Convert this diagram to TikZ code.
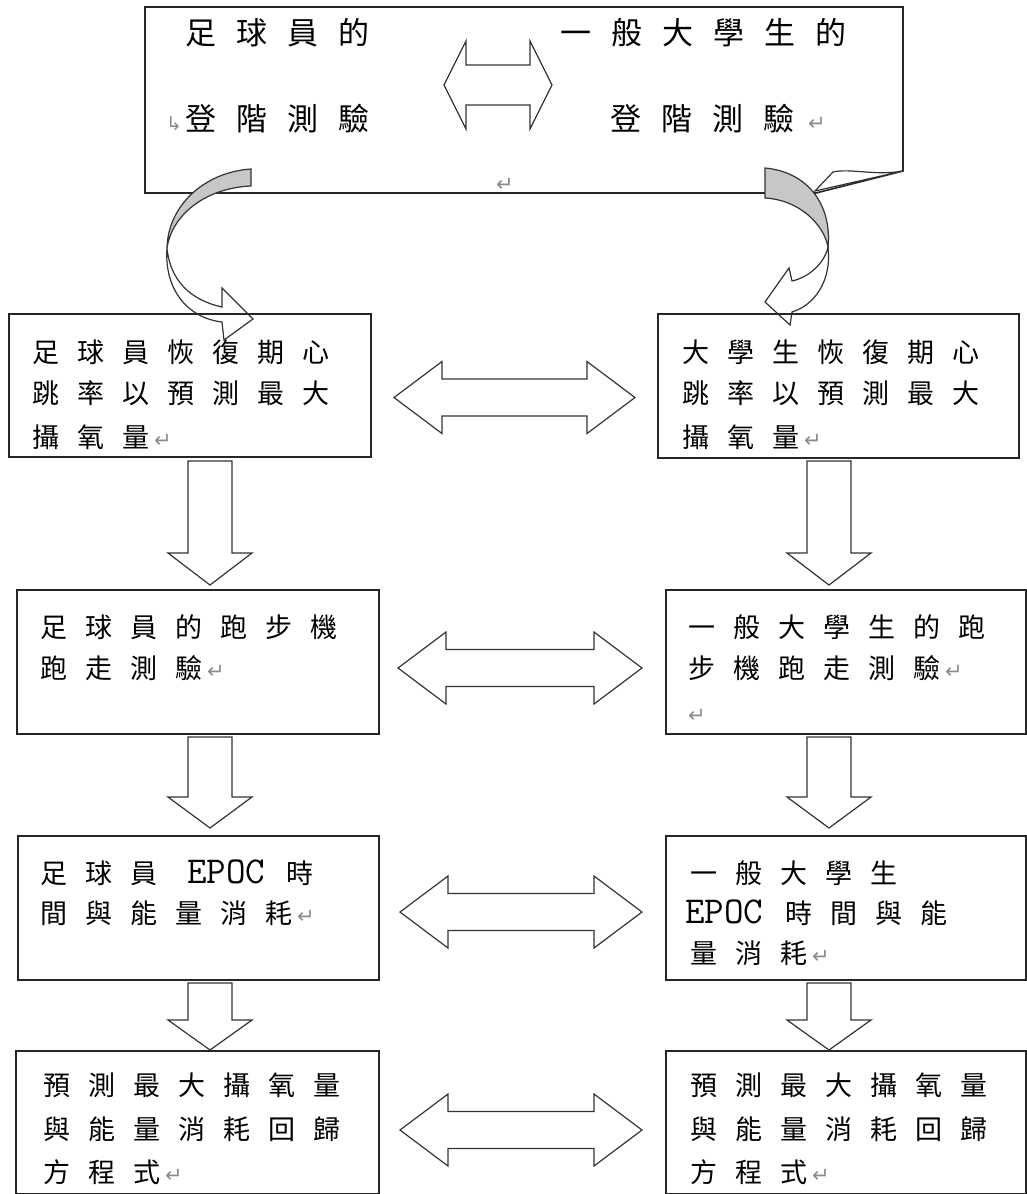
\documentclass[tikz,border=0pt]{standalone}
\usepackage{fontspec}
\newfontfamily\cjk{Noto Sans CJK TC}
\newfontfamily\dejavu{DejaVu Sans}
\newcommand\cgap{\hspace{18pt}}
\newcommand\tgap{\hspace{20pt}}
\newcommand\pmk{\textcolor{black!45}{\dejavu\fontsize{21}{21}\selectfont ↵}}
\newcommand\pmr{\textcolor{black!45}{\dejavu\fontsize{19}{19}\selectfont ↳}}
\newcommand\epoc{{\fontsize{38}{38}\selectfont\ttfamily EPOC}}
% horizontal double block arrow: x1 x2 y headlen halfhead halfshaft
\newcommand\hdbl[6]{\draw[blk] (#1,#3) -- (#1+#4,#3-#5) -- (#1+#4,#3-#6) -- (#2-#4,#3-#6) -- (#2-#4,#3-#5) -- (#2,#3) -- (#2-#4,#3+#5) -- (#2-#4,#3+#6) -- (#1+#4,#3+#6) -- (#1+#4,#3+#5) -- cycle;}
% vertical down block arrow: xc top base tip
\newcommand\vdn[4]{\draw[blk] (#1-22,#2) -- (#1+22,#2) -- (#1+22,#3) -- (#1+42,#3) -- (#1,#4) -- (#1-42,#3) -- (#1-22,#3) -- cycle;}
\begin{document}
\begin{tikzpicture}[x=1pt,y=-1pt,
  box/.style={draw=black!85, line width=1.6pt, inner sep=0pt, anchor=north west},
  blk/.style={draw=black!80, line width=1.2pt, fill=white, line join=miter},
  crv/.style={draw=black!80, line width=1.2pt},
  txt/.style={anchor=base west, inner sep=0pt, font=\cjk\fontsize{27}{27}\selectfont},
  ttxt/.style={anchor=base west, inner sep=0pt, font=\cjk\fontsize{31}{31}\selectfont}]
\useasboundingbox (0,0) rectangle (1026,1194);
\fill[white] (0,0) rectangle (1026,1194);

% top box with folded corner
\draw[box] (145,7) -- (903,7) -- (903,171) -- (816,193) -- (145,193) -- cycle;
\draw[crv, fill=white] (903,171) .. controls (875,176) and (850,168) .. (833,172) -- (815,191) -- cycle;
\node[ttxt] (t1) at (185,44) {足\tgap 球\tgap 員\tgap 的};
\node[ttxt] (t2) at (166,130) {\pmr\hspace{3pt}登\tgap 階\tgap 測\tgap 驗};
\node[ttxt] (t3) at (560,44) {一\tgap 般\tgap 大\tgap 學\tgap 生\tgap 的};
\node[ttxt] (t4) at (610,130) {登\tgap 階\tgap 測\tgap 驗\hspace{14pt}\pmk};
\node[ttxt] (t5) at (496,191) {\pmk};
\hdbl{444}{552}{85}{22}{44}{20}

% curved arrows: white front bands
\draw[crv, fill=white] (167,248) .. controls (170,280) and (190,300) .. (222,307) -- (222,288) -- (253,319) -- (224,340) -- (222,322) .. controls (188,318) and (164,290) .. (167,248) -- cycle;
\draw[crv, fill=white] (828,247) .. controls (825,262) and (810,277) .. (792,281) -- (789,268) -- (765,302) -- (790,325) -- (792,312) .. controls (815,305) and (832,280) .. (828,247) -- cycle;

% boxes
\node[box, minimum width=362, minimum height=143] (L1) at (8,313) {};
\node[box, minimum width=361, minimum height=144] (R1) at (657,313) {};
\node[box, minimum width=362, minimum height=144] (L2) at (16,589) {};
\node[box, minimum width=360, minimum height=144] (R2) at (665,589) {};
\node[box, minimum width=361, minimum height=144] (L3) at (17,835) {};
\node[box, minimum width=360, minimum height=144] (R3) at (665,835) {};
\node[box, minimum width=363, minimum height=143] (L4) at (15,1050) {};
\node[box, minimum width=360, minimum height=143] (R4) at (665,1050) {};

% gray back crescents
\draw[crv, fill=black!22] (251,169) .. controls (205,172) and (168,205) .. (167,248) .. controls (172,215) and (205,188) .. (251,186) -- cycle;
\draw[crv, fill=black!22] (765,168) .. controls (808,172) and (832,205) .. (828,247) .. controls (824,225) and (800,200) .. (765,198) -- cycle;

% texts
\node[txt] (a1) at (32,362) {足\cgap 球\cgap 員\cgap 恢\cgap 復\cgap 期\cgap 心};
\node[txt] (a2) at (32,403) {跳\cgap 率\cgap 以\cgap 預\cgap 測\cgap 最\cgap 大};
\node[txt] (a3) at (32,447) {攝\cgap 氧\cgap 量\hspace{5pt}\pmk};
\node[txt] (b1) at (682,362) {大\cgap 學\cgap 生\cgap 恢\cgap 復\cgap 期\cgap 心};
\node[txt] (b2) at (682,403) {跳\cgap 率\cgap 以\cgap 預\cgap 測\cgap 最\cgap 大};
\node[txt] (b3) at (682,447) {攝\cgap 氧\cgap 量\hspace{5pt}\pmk};

\node[txt] (c1) at (40,637) {足\cgap 球\cgap 員\cgap 的\cgap 跑\cgap 步\cgap 機};
\node[txt] (c2) at (40,678) {跑\cgap 走\cgap 測\cgap 驗\hspace{5pt}\pmk};
\node[txt] (d1) at (688,637) {一\cgap 般\cgap 大\cgap 學\cgap 生\cgap 的\cgap 跑};
\node[txt] (d2) at (688,678) {步\cgap 機\cgap 跑\cgap 走\cgap 測\cgap 驗\hspace{5pt}\pmk};
\node[txt] (d3) at (688,722) {\pmk};

\node[txt] (e1) at (40,883) {足\cgap 球\cgap 員\hspace{30pt}\epoc\hspace{21pt}時};
\node[txt] (e2) at (40,923) {間\cgap 與\cgap 能\cgap 量\cgap 消\cgap 耗\hspace{5pt}\pmk};
\node[txt] (f1) at (690,883) {一\cgap 般\cgap 大\cgap 學\cgap 生};
\node[txt] (f2) at (685,923) {\epoc\hspace{22pt}時\cgap 間\cgap 與\cgap 能};
\node[txt] (f3) at (690,963) {量\cgap 消\cgap 耗\hspace{5pt}\pmk};

\node[txt] (g1) at (43,1095) {預\cgap 測\cgap 最\cgap 大\cgap 攝\cgap 氧\cgap 量};
\node[txt] (g2) at (43,1139) {與\cgap 能\cgap 量\cgap 消\cgap 耗\cgap 回\cgap 歸};
\node[txt] (g3) at (43,1182) {方\cgap 程\cgap 式\hspace{5pt}\pmk};
\node[txt] (h1) at (690,1095) {預\cgap 測\cgap 最\cgap 大\cgap 攝\cgap 氧\cgap 量};
\node[txt] (h2) at (690,1139) {與\cgap 能\cgap 量\cgap 消\cgap 耗\cgap 回\cgap 歸};
\node[txt] (h3) at (690,1182) {方\cgap 程\cgap 式\hspace{5pt}\pmk};

% horizontal double arrows
\hdbl{394}{635}{397.5}{48}{36}{18.5}
\hdbl{398}{642}{668}{48}{36}{18.5}
\hdbl{400}{642}{912}{48}{36}{18.5}
\hdbl{400}{642}{1130}{48}{36}{18.5}

% down arrows
\vdn{210}{461}{553}{585}
\vdn{829}{461}{553}{585}
\vdn{210}{737}{797}{828}
\vdn{829}{737}{797}{828}
\vdn{210}{983}{1020}{1050}
\vdn{829}{983}{1020}{1050}
\end{tikzpicture}
\end{document}
